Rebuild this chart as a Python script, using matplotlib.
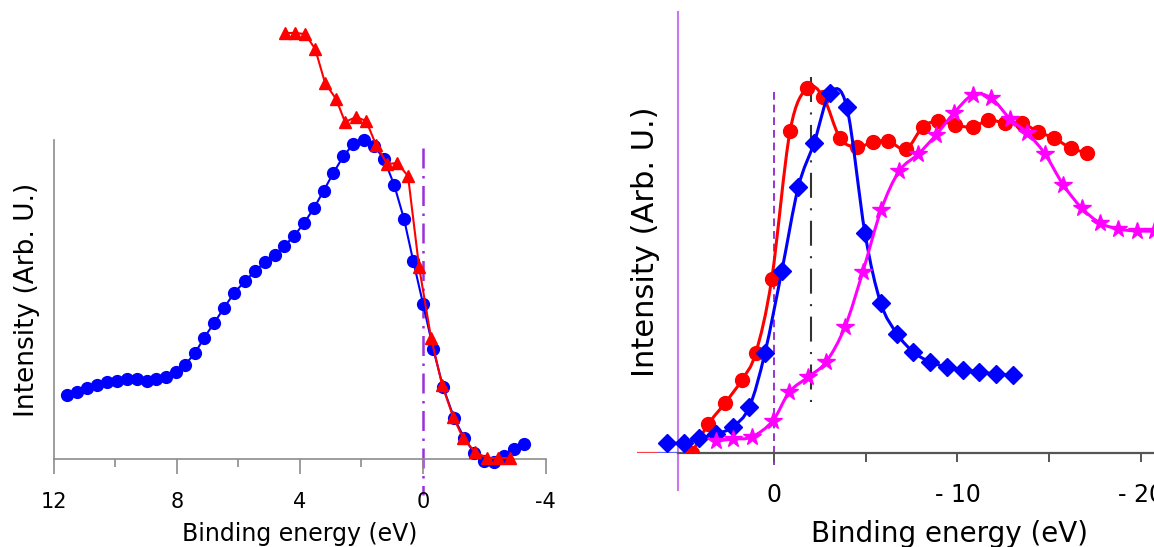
import matplotlib
matplotlib.use('Agg')
import matplotlib.pyplot as plt
import numpy as np
from matplotlib.path import Path
from matplotlib.patches import PathPatch

# ---- left panel data (binding energy eV, intensity arb.)
left_blue_e = [11.59, 11.26, 10.94, 10.61, 10.28, 9.96, 9.63, 9.31, 8.98, 8.68,
               8.35, 8.03, 7.74, 7.41, 7.12, 6.79, 6.47, 6.14, 5.78, 5.46,
               5.13, 4.81, 4.51, 4.19, 3.86, 3.54, 3.23, 2.91, 2.58, 2.26,
               1.91, 1.58, 1.26, 0.93, 0.61, 0.31, -0.01, -0.34, -0.66, -1.02,
               -1.35, -1.67, -2.00, -2.32, -2.65, -2.97, -3.30]
left_blue_i = [64, 67, 71, 74, 77, 78, 80, 80, 78, 80,
               82, 87, 94, 106, 121, 136, 151, 166, 178, 188,
               197, 204, 213, 223, 236, 251, 268, 286, 303, 315,
               319, 313, 300, 274, 240, 198, 155, 110, 72, 41,
               21, 6, -2, -3, 3, 10, 15]
left_red_e = [4.48, 4.15, 3.83, 3.50, 3.18, 2.82, 2.53, 2.17, 1.84, 1.52, 1.16,
              0.83, 0.48, 0.12, -0.27, -0.63, -0.99, -1.31, -1.70, -2.10, -2.45, -2.84]
left_red_i = [426, 426, 425, 410, 376, 360, 337, 342, 338, 314, 295,
              296, 283, 192, 121, 74, 42, 21, 7, 1, 1, 1]
left_ticks = [12, 8, 4, 0, -4]
left_minor = [10, 6, 2, -2]

# ---- right panel data
right_red_e = [4.48, 3.57, 2.66, 1.75, 0.99, 0.12, -0.88, -1.82, -2.69, -3.60,
               -4.51, -5.42, -6.23, -7.20, -8.11, -8.96, -9.87, -10.83, -11.68,
               -12.59, -13.50, -14.41, -15.26, -16.17, -17.08]
right_red_i = [0, 29, 50, 73, 100, 174, 322, 365, 356, 315,
               306, 311, 312, 304, 326, 332, 328, 326, 333,
               330, 330, 321, 315, 305, 300]
right_blue_e = [5.84, 4.90, 4.07, 3.16, 2.25, 1.34, 0.49, -0.43, -1.33, -2.19,
                -3.06, -3.97, -4.96, -5.82, -6.72, -7.60, -8.51, -9.42, -10.32,
                -11.19, -12.10, -13.01]
right_blue_i = [10, 10, 15, 19, 26, 46, 100, 182, 266, 310,
                360, 346, 220, 150, 119, 101, 91, 86, 83,
                81, 79, 78]
right_pink_e = [3.16, 2.21, 1.21, 0.07, -0.84, -1.87, -2.84, -3.87, -4.84, -5.84,
                -6.83, -7.87, -8.83, -9.81, -10.83, -11.83, -12.87, -13.81, -14.77,
                -15.77, -16.77, -17.77, -18.77, -19.77, -20.71]
right_pink_i = [12, 14, 16, 32, 61, 76, 91, 126, 181, 243,
                282, 299, 318, 340, 358, 355, 334, 320, 299,
                268, 245, 230, 224, 222, 222]
right_ticks = [0, -10, -20]
right_ticklabels = ['0', '- 10', '- 20']
right_minor = [-5, -15]


def smooth_path(xs, ys):
    # Excel-like smoothed line (cubic bezier through the points)
    p = np.column_stack([xs, ys]).astype(float)
    n = len(p)
    verts = [p[0]]
    codes = [Path.MOVETO]
    for i in range(n - 1):
        p0 = p[max(i - 1, 0)]
        p1 = p[i]
        p2 = p[i + 1]
        p3 = p[min(i + 2, n - 1)]
        verts += [p1 + (p2 - p0) / 6, p2 - (p3 - p1) / 6, p2]
        codes += [Path.CURVE4] * 3
    return Path(verts, codes)


fig = plt.figure(figsize=(11.54, 5.47), dpi=100)

# ================= left panel
ax1 = fig.add_axes([54 / 1154, 88 / 547, 491.7 / 1154, 439 / 547])
ax1.set_xlim(12, -4)
ax1.set_ylim(0, 439)
for s in ['top', 'right']:
    ax1.spines[s].set_visible(False)
ax1.spines['left'].set_bounds(0, 319)
for s in ['left', 'bottom']:
    ax1.spines[s].set_color('#8c8c8c')
    ax1.spines[s].set_linewidth(1.2)
ax1.set_yticks([])
ax1.set_xticks(left_ticks)
ax1.set_xticklabels([str(t) for t in left_ticks])
ax1.set_xticks(left_minor, minor=True)
ax1.tick_params(axis='x', which='major', length=11, width=1.2, color='#8c8c8c',
                labelsize=15, pad=13)
ax1.tick_params(axis='x', which='minor', length=6, width=1.2, color='#8c8c8c')
ax1.set_xlabel('Binding energy (eV)', fontsize=17, labelpad=7)
ax1.set_ylabel('Intensity (Arb. U.)', fontsize=19)
ax1.yaxis.set_label_coords(-0.028, 0.362)

ax1.plot([0, 0], [311, -36], color='#9a30d8', lw=1.8, dashes=(8, 3, 1, 3),
         clip_on=False, zorder=1)
ax1.plot(left_blue_e, left_blue_i, color='#0000ff', lw=1.5, marker='o', ms=8.5,
         clip_on=False, zorder=3)
ax1.plot(left_red_e, left_red_i, color='#ff0000', lw=1.5, marker='^', ms=9,
         clip_on=False, zorder=4)

# ================= right panel
ax2 = fig.add_axes([637 / 1154, 94 / 547, 517 / 1154, 441 / 547])
ax2.set_xlim(7.46, -20.71)
ax2.set_ylim(0, 441)
for s in ['top', 'right', 'left']:
    ax2.spines[s].set_visible(False)
ax2.spines['bottom'].set_bounds(5.25, -20.71)
ax2.spines['bottom'].set_color('#555555')
ax2.spines['bottom'].set_linewidth(1.6)
ax2.axhline(0, xmin=0, xmax=0.042, color='#ff4040', lw=1.6, zorder=1)
ax2.axhline(0, xmin=0.042, xmax=0.078, color='#6060ff', lw=1.6, zorder=1)
ax2.axvline(5.25, ymin=-0.084, ymax=1.0, color='#cc77ee', lw=1.5, clip_on=False)
ax2.set_yticks([])
ax2.set_xticks(right_ticks)
ax2.set_xticklabels(right_ticklabels)
ax2.set_xticks(right_minor, minor=True)
ax2.tick_params(axis='x', which='both', length=6.5, width=1.4, color='#555555')
ax2.tick_params(axis='x', which='major', labelsize=17, pad=15)
ax2.set_xlabel('Binding energy (eV)', fontsize=20)
ax2.xaxis.set_label_coords(0.605, -0.152)
ax2.set_ylabel('Intensity (Arb. U.)', fontsize=22)
ax2.yaxis.set_label_coords(0.044, 0.478)

ax2.plot([0, 0], [361, -12], color='#9933cc', lw=1.4, dashes=(4, 2.5),
         clip_on=False, zorder=1)
ax2.plot([-2.04, -2.04], [376, 41], color='#333333', lw=1.5,
         dashes=(12, 5, 1, 5), zorder=1)

for xs, ys, col, mk, ms, z in [
        (right_red_e, right_red_i, '#ff0000', 'o', 10, 3),
        (right_blue_e, right_blue_i, '#0000ff', 'D', 9, 4),
        (right_pink_e, right_pink_i, '#ff00ff', '*', 13, 5)]:
    ax2.add_patch(PathPatch(smooth_path(xs, ys), facecolor='none',
                            edgecolor=col, lw=2.2, zorder=z))
    ax2.plot(xs, ys, ls='none', marker=mk, ms=ms, color=col, zorder=z)

fig.savefig('out.png', dpi=100)
